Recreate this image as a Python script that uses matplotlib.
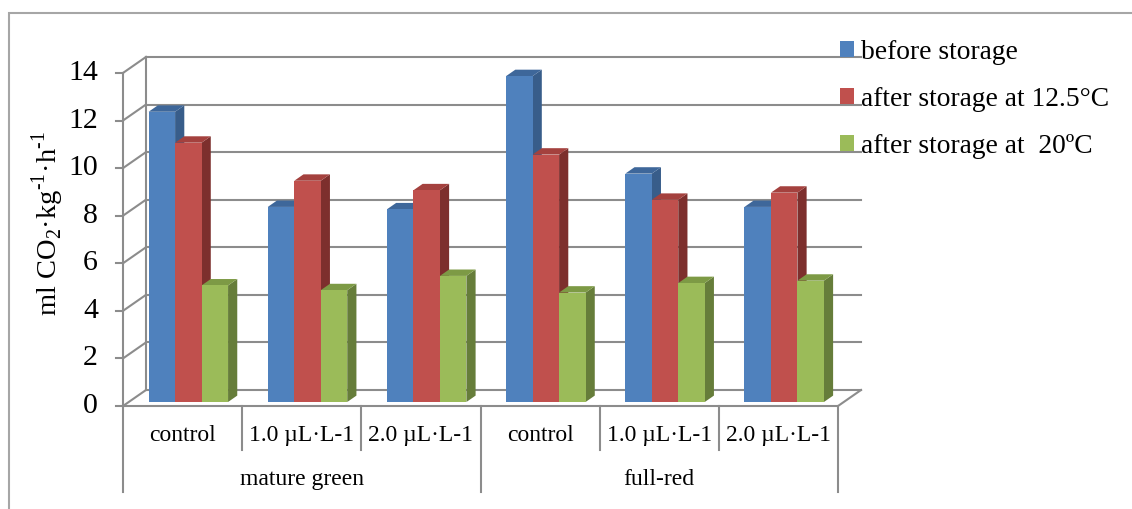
import matplotlib.pyplot as plt
from matplotlib.patches import Patch, Polygon, Rectangle

# --------------------------------------------------
# Data
# --------------------------------------------------
groups = ["mature green", "full-red"]
treatments = ["control", "1.0 µL·L-1", "2.0 µL·L-1"]
series_labels = ["before storage", "after storage at 12.5°C", "after storage at  20ºC"]

before_storage = [12.2, 8.2, 8.1, 13.7, 9.6, 8.2]
after_12_5 = [10.9, 9.3, 8.9, 10.4, 8.5, 8.8]
after_20 = [4.9, 4.7, 5.3, 4.6, 5.0, 5.1]

y_ticks = [0, 2, 4, 6, 8, 10, 12, 14]

# front / side / top colours of each series
face_colors = ["#4f81bd", "#c0504d", "#9bbb59"]
side_colors = ["#385d8a", "#7d2f2d", "#667d3a"]
top_colors = ["#3e679a", "#a4413e", "#7d9a45"]

# --------------------------------------------------
# Layout (pixels of a 1132x509 canvas)
# --------------------------------------------------
W, H = 1132, 509
X0_PX, Y0_PX = 123, 406      # front origin of the plot box
PX_X, PX_Y = 119.17, 23.79   # pixels per category / per unit
DX, DY = 23 / PX_X, 16 / PX_Y  # full depth of the 3D box, in data units
D0, D1 = 0.25, 0.65          # depth range occupied by the bars
GAP = 1.5                    # gap width relative to a bar

GRID = "#8c8c8c"
FONT = "Liberation Serif"
plt.rcParams["font.family"] = [FONT, "DejaVu Serif"]
plt.rcParams["mathtext.fontset"] = "custom"
plt.rcParams["mathtext.rm"] = FONT

fig = plt.figure(figsize=(W / 100, H / 100), dpi=100)
ax = fig.add_axes([0, 0, 1, 1])
ax.set_xlim(-X0_PX / PX_X, (W - X0_PX) / PX_X)
ax.set_ylim(-(H - Y0_PX) / PX_Y, Y0_PX / PX_Y)
ax.axis("off")

n_cat = len(groups) * len(treatments)
y_max = y_ticks[-1]

# walls and gridlines
for v in y_ticks:
    ax.plot([DX, n_cat + DX], [v + DY, v + DY], color=GRID, lw=1.5, zorder=1)
    ax.plot([0, DX], [v, v + DY], color=GRID, lw=1.5, zorder=1)
    ax.plot([-0.06, 0], [v, v], color=GRID, lw=1.5, zorder=1)
    ax.text(-0.21, v, str(v), ha="right", va="center", fontsize=21.5)
ax.plot([DX, DX], [DY, y_max + DY], color=GRID, lw=1.5, zorder=1)
ax.plot([0, 0], [0, y_max], color=GRID, lw=1.5, zorder=1)
ax.plot([0, n_cat, n_cat + DX], [0, 0, DY], color=GRID, lw=1.5, zorder=1)


def draw_bar(x_left, width, value, i):
    x_right = x_left + width
    front = Rectangle((x_left + D0 * DX, D0 * DY), width, value,
                      facecolor=face_colors[i], edgecolor="none")
    side = Polygon([(x_right + D0 * DX, D0 * DY), (x_right + D1 * DX, D1 * DY),
                    (x_right + D1 * DX, value + D1 * DY), (x_right + D0 * DX, value + D0 * DY)],
                   closed=True, facecolor=side_colors[i], edgecolor="none")
    top = Polygon([(x_left + D0 * DX, value + D0 * DY), (x_right + D0 * DX, value + D0 * DY),
                   (x_right + D1 * DX, value + D1 * DY), (x_left + D1 * DX, value + D1 * DY)],
                  closed=True, facecolor=top_colors[i], edgecolor="none")
    for patch in (side, top, front):
        patch.set_zorder(2)
        ax.add_patch(patch)


series = [before_storage, after_12_5, after_20]
bar_w = 1 / (len(series) + GAP)
for c in range(n_cat):
    for i, values in enumerate(series):
        x_left = c + GAP * bar_w / 2 + i * bar_w
        draw_bar(x_left, bar_w, values[c], i)

# category table under the floor
for c in range(n_cat + 1):
    bottom = -3.61 if c % len(treatments) == 0 else -1.85
    ax.plot([c, c], [0, bottom], color=GRID, lw=1.5, zorder=1)
for g, group in enumerate(groups):
    for t, label in enumerate(treatments):
        c = g * len(treatments) + t
        ax.text(c + 0.5, -1.26, label, ha="center", va="center", fontsize=17)
    ax.text(g * len(treatments) + len(treatments) / 2, -3.11, group,
            ha="center", va="center", fontsize=17)

fig.text(48 / W, 1 - 224 / H, r"ml CO$_2$·kg$^{\text{-}1}$·h$^{\text{-}1}$", rotation=90,
         ha="center", va="center", fontsize=20.5)

handles = [Patch(facecolor=c, edgecolor="none") for c in face_colors]
fig.legend(handles, series_labels, loc="upper left",
           bbox_to_anchor=(840 / W, 1 - 40 / H), bbox_transform=fig.transFigure,
           frameon=False, fontsize=19.8, borderpad=0, borderaxespad=0,
           handlelength=0.5, handleheight=0.5, handletextpad=0.28,
           labelspacing=0.8)

# outer chart frame
fig.patches.append(Rectangle((9 / W, -0.1), 1.2, 1 - 13 / H + 0.1,
                             transform=fig.transFigure, fill=False,
                             edgecolor="#a6a6a6", lw=1.5))

fig.savefig("out.png", dpi=100)
